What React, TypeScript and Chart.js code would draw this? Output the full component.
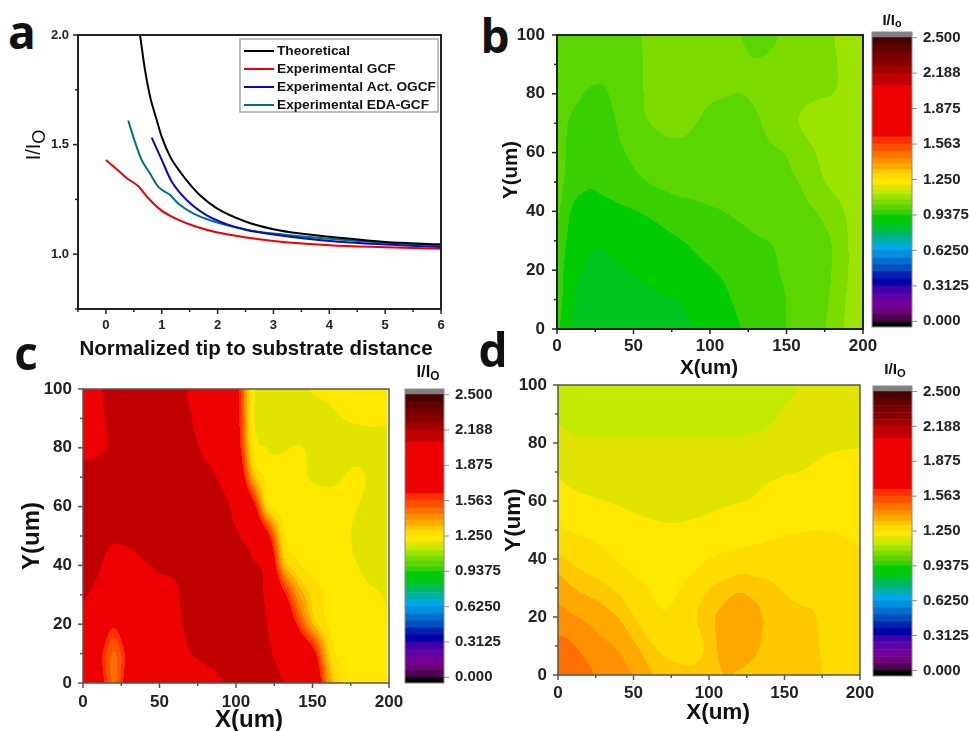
import React, { useEffect, useRef } from "react";
import { Chart, registerables } from "chart.js";

Chart.register(...registerables);

const FONT = "'Liberation Sans', Arial, sans-serif";

// ---------- panel a ----------
const theoX = [0.6, 0.7, 0.79, 0.9, 1.0, 1.15, 1.33, 1.5, 1.68, 1.98, 2.52, 3.0, 3.48, 4.0, 5.0, 6.0];
const theoY = [2.02, 1.84, 1.72, 1.62, 1.535, 1.445, 1.375, 1.32, 1.27, 1.21, 1.147, 1.114, 1.094, 1.08, 1.056, 1.045];
const gcfX = [0, 0.25, 0.37, 0.58, 0.76, 0.99, 1.27, 1.62, 1.98, 2.52, 3.0, 4.0, 5.0, 6.0];
const gcfY = [1.43, 1.375, 1.348, 1.31, 1.255, 1.2, 1.16, 1.125, 1.1, 1.076, 1.06, 1.041, 1.032, 1.025];
const ogcfX = [0.82, 1.0, 1.18, 1.45, 1.8, 2.16, 2.52, 3.0, 4.0, 5.0, 6.0];
const ogcfY = [1.532, 1.43, 1.33, 1.246, 1.178, 1.137, 1.11, 1.09, 1.06, 1.044, 1.033];
const edaX = [0.4, 0.52, 0.64, 0.79, 0.94, 1.15, 1.3, 1.57, 1.92, 2.52, 3.0, 4.0, 5.0, 6.0];
const edaY = [1.61, 1.512, 1.43, 1.368, 1.307, 1.27, 1.23, 1.185, 1.15, 1.112, 1.094, 1.07, 1.052, 1.04];
const curveLabels = ["Theoretical", "Experimental GCF", "Experimental Act. OGCF", "Experimental EDA-GCF"];
const curveColors = ["#000000", "#f00000", "#0808c8", "#007080"];

// ---------- contour grids: rows from y = 100 down to y = 0 ----------
const gridX = [0, 10, 20, 30, 40, 50, 60, 70, 80, 90, 100, 110, 120, 130, 140, 150, 160, 170, 180, 190, 200];
const gridY = [100, 90, 80, 70, 60, 50, 40, 30, 20, 10, 0];

const panelB = [
  [1.0, 1.01, 1.01, 1.01, 1.015, 1.025, 1.035, 1.04, 1.045, 1.045, 1.04, 1.035, 1.03, 1.02, 1.025, 1.035, 1.04, 1.05, 1.068, 1.085, 1.09],
  [0.99, 1.0, 1.0, 1.0, 1.01, 1.02, 1.035, 1.04, 1.045, 1.045, 1.045, 1.04, 1.035, 1.032, 1.035, 1.04, 1.045, 1.055, 1.065, 1.08, 1.09],
  [1.0, 0.995, 0.975, 0.97, 1.0, 1.02, 1.035, 1.045, 1.045, 1.04, 1.035, 1.032, 1.03, 1.035, 1.04, 1.05, 1.06, 1.065, 1.068, 1.08, 1.09],
  [1.0, 0.97, 0.95, 0.95, 0.985, 1.02, 1.03, 1.04, 1.04, 1.032, 1.02, 1.015, 1.015, 1.025, 1.04, 1.06, 1.075, 1.09, 1.095, 1.1, 1.1],
  [1.0, 0.965, 0.95, 0.95, 0.97, 0.99, 1.005, 1.015, 1.02, 1.015, 1.01, 1.01, 1.015, 1.02, 1.025, 1.03, 1.05, 1.072, 1.09, 1.095, 1.1],
  [1.0, 0.955, 0.94, 0.945, 0.955, 0.97, 0.982, 0.99, 0.995, 0.995, 1.0, 1.005, 1.01, 1.015, 1.02, 1.025, 1.032, 1.06, 1.08, 1.09, 1.1],
  [0.99, 0.93, 0.925, 0.925, 0.93, 0.935, 0.945, 0.955, 0.965, 0.97, 0.975, 0.98, 0.99, 1.0, 1.01, 1.015, 1.02, 1.03, 1.05, 1.075, 1.09],
  [0.98, 0.91, 0.88, 0.88, 0.89, 0.9, 0.91, 0.925, 0.935, 0.945, 0.955, 0.96, 0.965, 0.975, 0.98, 0.99, 1.0, 1.015, 1.03, 1.07, 1.09],
  [0.97, 0.89, 0.87, 0.865, 0.87, 0.878, 0.89, 0.9, 0.91, 0.925, 0.935, 0.945, 0.955, 0.965, 0.975, 0.985, 1.0, 1.015, 1.03, 1.07, 1.085],
  [0.97, 0.875, 0.86, 0.855, 0.855, 0.86, 0.865, 0.87, 0.873, 0.89, 0.91, 0.93, 0.95, 0.96, 0.97, 0.98, 1.0, 1.015, 1.035, 1.075, 1.085],
  [0.95, 0.87, 0.855, 0.85, 0.85, 0.855, 0.86, 0.865, 0.87, 0.873, 0.885, 0.91, 0.9375, 0.95, 0.97, 0.98, 1.0, 1.02, 1.04, 1.08, 1.09],
];

const panelC = [
  [1.93, 2.06, 2.13, 2.18, 2.18, 2.18, 2.14, 2.06, 1.98, 1.93, 1.72, 1.22, 1.19, 1.18, 1.19, 1.205, 1.21, 1.22, 1.24, 1.24, 1.22],
  [1.93, 2.05, 2.12, 2.18, 2.18, 2.18, 2.16, 2.09, 2.0, 1.93, 1.74, 1.21, 1.18, 1.17, 1.17, 1.18, 1.19, 1.2, 1.205, 1.21, 1.205],
  [2.03, 2.05, 2.1, 2.18, 2.18, 2.18, 2.18, 2.13, 2.04, 1.96, 1.77, 1.25, 1.195, 1.195, 1.205, 1.195, 1.19, 1.185, 1.185, 1.18, 1.18],
  [2.13, 2.16, 2.18, 2.18, 2.18, 2.18, 2.18, 2.18, 2.14, 2.06, 1.96, 1.35, 1.23, 1.22, 1.21, 1.195, 1.19, 1.2, 1.21, 1.19, 1.175],
  [2.13, 2.16, 2.18, 2.18, 2.18, 2.18, 2.18, 2.18, 2.18, 2.13, 2.03, 1.78, 1.24, 1.225, 1.22, 1.22, 1.22, 1.21, 1.2, 1.18, 1.17],
  [2.13, 2.13, 2.1, 2.13, 2.18, 2.18, 2.18, 2.18, 2.18, 2.18, 2.1, 2.01, 1.72, 1.26, 1.24, 1.225, 1.225, 1.21, 1.19, 1.18, 1.17],
  [2.14, 2.1, 2.01, 2.0, 2.06, 2.11, 2.11, 2.16, 2.18, 2.18, 2.18, 2.11, 2.03, 1.35, 1.25, 1.23, 1.22, 1.21, 1.2, 1.17, 1.17],
  [2.11, 2.03, 1.93, 1.93, 1.98, 2.01, 2.05, 2.15, 2.18, 2.18, 2.18, 2.14, 2.06, 1.72, 1.4, 1.28, 1.245, 1.23, 1.22, 1.21, 1.195],
  [1.98, 1.85, 1.62, 1.85, 1.96, 2.01, 2.04, 2.13, 2.18, 2.18, 2.18, 2.16, 2.09, 1.93, 1.6, 1.32, 1.24, 1.22, 1.21, 1.21, 1.2],
  [1.93, 1.68, 1.46, 1.68, 1.93, 1.96, 2.0, 2.08, 2.11, 2.14, 2.18, 2.18, 2.11, 2.03, 1.93, 1.72, 1.3, 1.225, 1.22, 1.22, 1.22],
  [1.93, 1.75, 1.45, 1.75, 1.93, 1.96, 1.98, 2.01, 2.03, 2.065, 2.13, 2.16, 2.14, 2.09, 2.0, 1.93, 1.4, 1.23, 1.22, 1.22, 1.22],
];

const panelD = [
  [1.16, 1.14, 1.135, 1.135, 1.135, 1.135, 1.135, 1.135, 1.135, 1.135, 1.135, 1.135, 1.135, 1.135, 1.14, 1.15, 1.16, 1.17, 1.175, 1.18, 1.18],
  [1.155, 1.145, 1.14, 1.14, 1.14, 1.14, 1.14, 1.14, 1.14, 1.14, 1.14, 1.14, 1.14, 1.14, 1.15, 1.165, 1.17, 1.175, 1.18, 1.185, 1.19],
  [1.175, 1.165, 1.165, 1.165, 1.165, 1.165, 1.165, 1.165, 1.165, 1.165, 1.165, 1.165, 1.165, 1.17, 1.175, 1.18, 1.185, 1.19, 1.195, 1.197, 1.198],
  [1.195, 1.185, 1.18, 1.18, 1.178, 1.175, 1.175, 1.175, 1.175, 1.175, 1.175, 1.18, 1.185, 1.19, 1.195, 1.198, 1.2, 1.205, 1.21, 1.21, 1.21],
  [1.22, 1.21, 1.205, 1.2, 1.195, 1.19, 1.185, 1.185, 1.185, 1.185, 1.19, 1.195, 1.198, 1.202, 1.21, 1.215, 1.22, 1.225, 1.225, 1.225, 1.225],
  [1.255, 1.245, 1.24, 1.235, 1.225, 1.215, 1.21, 1.205, 1.205, 1.21, 1.215, 1.22, 1.225, 1.23, 1.24, 1.245, 1.248, 1.25, 1.25, 1.248, 1.245],
  [1.31, 1.29, 1.275, 1.26, 1.245, 1.23, 1.22, 1.215, 1.22, 1.235, 1.25, 1.26, 1.265, 1.27, 1.27, 1.27, 1.27, 1.27, 1.26, 1.255, 1.252],
  [1.37, 1.34, 1.325, 1.31, 1.29, 1.265, 1.25, 1.23, 1.248, 1.27, 1.3, 1.315, 1.335, 1.32, 1.31, 1.295, 1.285, 1.28, 1.27, 1.26, 1.255],
  [1.41, 1.395, 1.38, 1.36, 1.34, 1.3, 1.27, 1.255, 1.265, 1.295, 1.33, 1.36, 1.375, 1.36, 1.325, 1.315, 1.31, 1.305, 1.27, 1.26, 1.255],
  [1.46, 1.445, 1.42, 1.4, 1.385, 1.35, 1.31, 1.285, 1.275, 1.28, 1.31, 1.365, 1.365, 1.35, 1.325, 1.32, 1.315, 1.31, 1.275, 1.26, 1.255],
  [1.48, 1.47, 1.45, 1.43, 1.41, 1.39, 1.35, 1.325, 1.315, 1.31, 1.32, 1.34, 1.335, 1.325, 1.32, 1.32, 1.315, 1.31, 1.29, 1.265, 1.26],
];

// ---------- colour scale ----------
const bandLevels = [0, 0.0625, 0.125, 0.1875, 0.25, 0.3125, 0.375, 0.4375, 0.5, 0.5625, 0.625, 0.6875, 0.75, 0.8125, 0.875, 0.9375, 0.98, 1.03, 1.07, 1.12, 1.16, 1.2, 1.25, 1.3, 1.34, 1.39, 1.44, 1.5, 1.5625, 1.625, 2.08, 2.1875, 2.25, 2.3125, 2.375, 2.4375, 2.5];
const bandColors = ["#500050", "#700080", "#700098", "#6000a8", "#4000a8", "#0000a8", "#0020b0", "#0050c0", "#0070d0", "#0090e0", "#00a8e8", "#00b0a0", "#00b860", "#00c620", "#00cc00", "#38d000", "#5cd600", "#7cdc00", "#9ce400", "#c4ea00", "#e0e400", "#fee800", "#ffdc00", "#ffc800", "#ffa800", "#ff9000", "#ff7000", "#ff5000", "#ff3000", "#ee0000", "#c00000", "#a00000", "#880000", "#780000", "#600000", "#480000"];
const underLevel = -0.05;
const overLevel = 2.55;
const underColor = "#000000";
const overColor = "#808080";
const barTicks = [0, 0.3125, 0.625, 0.9375, 1.25, 1.5625, 1.875, 2.1875, 2.5];
const barTickLabels = ["0.000", "0.3125", "0.6250", "0.9375", "1.250", "1.563", "1.875", "2.188", "2.500"];

const hexRgb = (h: string) => [parseInt(h.slice(1, 3), 16), parseInt(h.slice(3, 5), 16), parseInt(h.slice(5, 7), 16)];
const bandRgb = bandColors.map(hexRgb);

// Mitchell-Netravali weights: smooth contours without strong overshoot.
function mitchell(t: number) {
  const a = Math.abs(t);
  if (a < 1) return (7 * a * a * a - 12 * a * a + 16 / 3) / 6;
  if (a < 2) return (-(7 / 3) * a * a * a + 12 * a * a - 20 * a + 32 / 3) / 6;
  return 0;
}

function sampleGrid(rows: number[][], X: number, Y: number) {
  const fx = X / 10, fy = (100 - Y) / 10;
  const i = Math.floor(fx), j = Math.floor(fy);
  let sum = 0;
  for (let m = -1; m <= 2; m++) {
    const wy = mitchell(fy - (j + m));
    const row = rows[Math.min(gridY.length - 1, Math.max(0, j + m))];
    for (let n = -1; n <= 2; n++) {
      sum += wy * mitchell(fx - (i + n)) * row[Math.min(gridX.length - 1, Math.max(0, i + n))];
    }
  }
  return sum;
}

function bandIndex(v: number) {
  let k = 0;
  while (k < bandColors.length - 1 && v >= bandLevels[k + 1]) k++;
  return k;
}

// Frame and major/minor ticks, placed through the chart's own scales.
const frameTicks = {
  id: "frameTicks",
  afterDraw(chart: any, _a: any, o: any) {
    const { ctx, chartArea: c, scales } = chart;
    ctx.save();
    ctx.strokeStyle = o.color;
    ctx.lineWidth = o.width;
    ctx.strokeRect(c.left, c.top, c.right - c.left, c.bottom - c.top);
    const mark = (scale: any, values: number[], len: number) => {
      values.forEach((v) => {
        const p = scale.getPixelForValue(v);
        ctx.beginPath();
        if (scale.axis === "x") { ctx.moveTo(p, c.bottom); ctx.lineTo(p, c.bottom + len); }
        else if (scale.position === "right") { ctx.moveTo(c.right, p); ctx.lineTo(c.right + len, p); }
        else { ctx.moveTo(c.left, p); ctx.lineTo(c.left - len, p); }
        ctx.stroke();
      });
    };
    ctx.lineWidth = o.tickWidth;
    if (o.xMajor) { mark(scales.x, o.xMajor, 5); mark(scales.x, o.xMinor, 3); }
    mark(scales.y, o.yMajor, 5);
    if (o.yMinor) mark(scales.y, o.yMinor, 3);
    ctx.restore();
  },
};

// Filled contours from a value grid.
const contourFill = {
  id: "contourFill",
  beforeDatasetsDraw(chart: any, _a: any, o: any) {
    if (!o.rows) return;
    const { ctx, chartArea: c, scales } = chart;
    const w = Math.round(c.right - c.left), h = Math.round(c.bottom - c.top);
    const off = document.createElement("canvas");
    off.width = w; off.height = h;
    const octx = off.getContext("2d")!;
    const img = octx.createImageData(w, h);
    for (let py = 0; py < h; py++) {
      const Y = scales.y.getValueForPixel(c.top + py + 0.5);
      for (let px = 0; px < w; px++) {
        const X = scales.x.getValueForPixel(c.left + px + 0.5);
        const n = (py * w + px) * 4;
        if (o.dataMaxX !== undefined && X > o.dataMaxX) {
          img.data[n] = 255; img.data[n + 1] = 255; img.data[n + 2] = 255; img.data[n + 3] = 255;
          continue;
        }
        const rgb = bandRgb[bandIndex(sampleGrid(o.rows, X, Y))];
        img.data[n] = rgb[0]; img.data[n + 1] = rgb[1]; img.data[n + 2] = rgb[2]; img.data[n + 3] = 255;
      }
    }
    octx.putImageData(img, 0, 0);
    ctx.drawImage(off, c.left, c.top);
  },
};

// Legend box of panel a, filled from the datasets.
const boxedLegend = {
  id: "boxedLegend",
  afterDraw(chart: any, _a: any, o: any) {
    if (!o.show) return;
    const { ctx, chartArea: c } = chart;
    const l = c.left + 162, t = c.top + 4, w = 198, h = 73;
    ctx.save();
    ctx.fillStyle = "#ffffff";
    ctx.fillRect(l, t, w, h);
    ctx.strokeStyle = "#a8a8a8";
    ctx.lineWidth = 1.5;
    ctx.strokeRect(l, t, w, h);
    ctx.font = `bold 13.7px ${FONT}`;
    ctx.textBaseline = "middle";
    chart.data.datasets.forEach((d: any, i: number) => {
      const y = t + 12 + i * 18;
      ctx.strokeStyle = d.borderColor;
      ctx.lineWidth = 2;
      ctx.beginPath(); ctx.moveTo(l + 4, y); ctx.lineTo(l + 34, y); ctx.stroke();
      ctx.fillStyle = "#111111";
      ctx.fillText(d.label, l + 37, y);
    });
    ctx.restore();
  },
};

type Box = { l: number; t: number; r: number; b: number };

function canvasStyle(box: Box, ml: number, mt: number, mr: number, mb: number) {
  return { left: box.l - ml, top: box.t - mt, width: box.r - box.l + ml + mr, height: box.b - box.t + mt + mb };
}

const noPad = (s: any) => { s.paddingLeft = 0; s.paddingRight = 0; s.paddingTop = 0; s.paddingBottom = 0; };

function buildLine(el: HTMLCanvasElement) {
  const xy = (xs: number[], ys: number[]) => xs.map((x, i) => ({ x, y: ys[i] }));
  const series = [xy(theoX, theoY), xy(gcfX, gcfY), xy(ogcfX, ogcfY), xy(edaX, edaY)];
  return new Chart(el, {
    type: "line",
    plugins: [frameTicks, boxedLegend],
    data: {
      datasets: series.map((data, i) => ({
        label: curveLabels[i], data, borderColor: curveColors[i], borderWidth: 2, pointRadius: 0,
        cubicInterpolationMode: "monotone" as const,
      })),
    },
    options: {
      animation: false, responsive: false,
      layout: { padding: { top: 14, right: 20 } },
      plugins: {
        legend: { display: false }, tooltip: { enabled: false },
        frameTicks: { color: "#222222", width: 2, tickWidth: 1.5, xMajor: [0, 1, 2, 3, 4, 5, 6], xMinor: [-0.5, 0.5, 1.5, 2.5, 3.5, 4.5, 5.5], yMajor: [1, 1.5, 2], yMinor: [0.75, 1.25, 1.75] },
        boxedLegend: { show: true },
      } as any,
      scales: {
        x: {
          type: "linear", min: -0.5, max: 6,
          grid: { display: false, drawTicks: false }, border: { display: false },
          afterFit: (s: any) => { s.height = 30; noPad(s); },
          afterBuildTicks: (s: any) => { s.ticks = [0, 1, 2, 3, 4, 5, 6].map((value) => ({ value })); },
          ticks: { padding: 9, color: "#222", font: { family: FONT, weight: "bold", size: 13 }, maxRotation: 0, autoSkip: false },
        },
        y: {
          type: "linear", min: 0.75, max: 2,
          grid: { display: false, drawTicks: false }, border: { display: false },
          afterFit: (s: any) => { s.width = 40; noPad(s); },
          afterBuildTicks: (s: any) => { s.ticks = [1, 1.5, 2].map((value) => ({ value })); },
          ticks: { padding: 9, color: "#222", font: { family: FONT, weight: "bold", size: 13 }, callback: (v: any) => Number(v).toFixed(1) },
        },
      },
    } as any,
  });
}

function buildMap(el: HTMLCanvasElement, rows: number[][], frame: string, fw: number, xPad: number, yPad: number, dataMaxX?: number) {
  const pts: { x: number; y: number }[] = [];
  gridY.forEach((y) => gridX.forEach((x) => pts.push({ x, y })));
  return new Chart(el, {
    type: "scatter",
    plugins: [contourFill, frameTicks],
    data: { datasets: [{ label: "I/Io", data: pts, pointRadius: 0 }] },
    options: {
      animation: false, responsive: false,
      layout: { padding: { top: 14, right: 24 } },
      plugins: {
        legend: { display: false }, tooltip: { enabled: false },
        contourFill: { rows, dataMaxX },
        frameTicks: { color: frame, width: fw, tickWidth: 1.5, xMajor: [0, 50, 100, 150, 200], xMinor: [25, 75, 125, 175], yMajor: [0, 20, 40, 60, 80, 100], yMinor: [10, 30, 50, 70, 90] },
      } as any,
      scales: {
        x: {
          type: "linear", min: 0, max: 200,
          grid: { display: false, drawTicks: false }, border: { display: false },
          afterFit: (s: any) => { s.height = 30; noPad(s); },
          afterBuildTicks: (s: any) => { s.ticks = [0, 50, 100, 150, 200].map((value) => ({ value })); },
          ticks: { padding: xPad, color: "#222", font: { family: FONT, weight: "bold", size: 17 }, maxRotation: 0, autoSkip: false },
        },
        y: {
          type: "linear", min: 0, max: 100,
          grid: { display: false, drawTicks: false }, border: { display: false },
          afterFit: (s: any) => { s.width = 45; noPad(s); },
          afterBuildTicks: (s: any) => { s.ticks = [0, 20, 40, 60, 80, 100].map((value) => ({ value })); },
          ticks: { padding: yPad, color: "#222", font: { family: FONT, weight: "bold", size: 17 } },
        },
      },
    } as any,
  });
}

function buildBar(el: HTMLCanvasElement) {
  const bands = bandColors.map((c, i) => ({ data: [[bandLevels[i], bandLevels[i + 1]]], backgroundColor: c }));
  bands.unshift({ data: [[underLevel, 0]], backgroundColor: underColor });
  bands.push({ data: [[2.5, overLevel]], backgroundColor: overColor });
  return new Chart(el, {
    type: "bar",
    plugins: [frameTicks],
    data: {
      labels: ["I/Io"],
      datasets: bands.map((b) => ({ ...b, barPercentage: 1, categoryPercentage: 1, borderWidth: 0 })),
    },
    options: {
      animation: false, responsive: false,
      layout: { padding: { top: 8, bottom: 8, left: 2 } },
      plugins: {
        legend: { display: false }, tooltip: { enabled: false },
        frameTicks: { color: "#8a8a8a", width: 1, tickWidth: 1, yMajor: barTicks },
      } as any,
      scales: {
        x: { display: false, stacked: true, afterFit: noPad },
        y: {
          type: "linear", position: "right", min: underLevel, max: overLevel,
          grid: { display: false, drawTicks: false }, border: { display: false },
          afterFit: (s: any) => { s.width = 60; noPad(s); },
          afterBuildTicks: (s: any) => { s.ticks = barTicks.map((value) => ({ value })); },
          ticks: {
            padding: 11, color: "#222", font: { family: FONT, weight: "bold", size: 15 }, autoSkip: false,
            callback: (v: any) => barTickLabels[barTicks.indexOf(v)],
          },
        },
      },
    } as any,
  });
}

const plotA: Box = { l: 78, t: 35, r: 441, b: 309 };
const plotB: Box = { l: 557, t: 35, r: 863, b: 329 };
const plotC: Box = { l: 83, t: 389, r: 389, b: 683 };
const plotD: Box = { l: 558, t: 385, r: 860, b: 675 };
const barB: Box = { l: 872, t: 32, r: 912, b: 327 };
const barC: Box = { l: 405, t: 389, r: 444, b: 683 };
const barD: Box = { l: 873, t: 386, r: 912, b: 676 };

function Label(p: { x: number; y: number; size: number; rot?: boolean; weight?: string; family?: string; children: React.ReactNode }) {
  return (
    <div style={{
      position: "absolute", left: p.x, top: p.y, whiteSpace: "nowrap", color: "#111",
      fontFamily: p.family || FONT, fontWeight: p.weight || "bold", fontSize: p.size, lineHeight: 1,
      transform: `translate(-50%,-50%)${p.rot ? " rotate(-90deg)" : ""}`,
    }}>{p.children}</div>
  );
}

const subStyle = { fontSize: "0.72em", verticalAlign: "-0.25em", lineHeight: 0 } as const;
const LETTER = "'Open Sans', sans-serif";

export default function App() {
  const refs = useRef<(HTMLCanvasElement | null)[]>([]);
  useEffect(() => {
    const c = refs.current as HTMLCanvasElement[];
    const charts = [
      buildLine(c[0]),
      buildMap(c[1], panelB, "#222222", 2, 7, 12),
      buildMap(c[2], panelC, "#555555", 1.5, 9, 11, 198.5),
      buildMap(c[3], panelD, "#555555", 1.5, 8, 11),
      buildBar(c[4]),
      buildBar(c[5]),
      buildBar(c[6]),
    ];
    return () => charts.forEach((ch) => ch.destroy());
  }, []);

  const boxes = [
    canvasStyle(plotA, 40, 14, 20, 30),
    canvasStyle(plotB, 45, 14, 24, 30),
    canvasStyle(plotC, 45, 14, 24, 30),
    canvasStyle(plotD, 45, 14, 24, 30),
    canvasStyle(barB, 2, 8, 60, 8),
    canvasStyle(barC, 2, 8, 60, 8),
    canvasStyle(barD, 2, 8, 60, 8),
  ];

  return (
    <div style={{ position: "absolute", left: 0, top: 0, width: 969, height: 731, overflow: "hidden", background: "#fff" }}>
      {boxes.map((b, i) => (
        <canvas key={i} ref={(el) => { refs.current[i] = el; }} width={b.width} height={b.height}
          style={{ position: "absolute", left: b.left, top: b.top, width: b.width, height: b.height }} />
      ))}
      <Label x={22} y={31} size={46} family={LETTER}>a</Label>
      <Label x={495} y={35} size={46} family={LETTER}>b</Label>
      <Label x={26} y={352} size={46} family={LETTER}>c</Label>
      <Label x={493} y={349} size={46} family={LETTER}>d</Label>

      <Label x={33} y={145} size={20} rot weight="normal">I/I<span style={{ ...subStyle, fontSize: "0.9em" }}>O</span></Label>
      <Label x={256} y={348} size={20.5}>Normalized tip to substrate distance</Label>

      <Label x={510} y={170} size={20.5} rot>Y(um)</Label>
      <Label x={709} y={367} size={20.5}>X(um)</Label>
      <Label x={31} y={536} size={24} rot>Y(um)</Label>
      <Label x={249} y={719} size={24}>X(um)</Label>
      <Label x={513} y={520} size={22.5} rot>Y(um)</Label>
      <Label x={718} y={712} size={22.5}>X(um)</Label>

      <Label x={892} y={19} size={15}>I/I<span style={subStyle}>o</span></Label>
      <Label x={428} y={371} size={16.5}>I/I<span style={subStyle}>O</span></Label>
      <Label x={895} y={369} size={15.5}>I/I<span style={subStyle}>O</span></Label>
    </div>
  );
}
